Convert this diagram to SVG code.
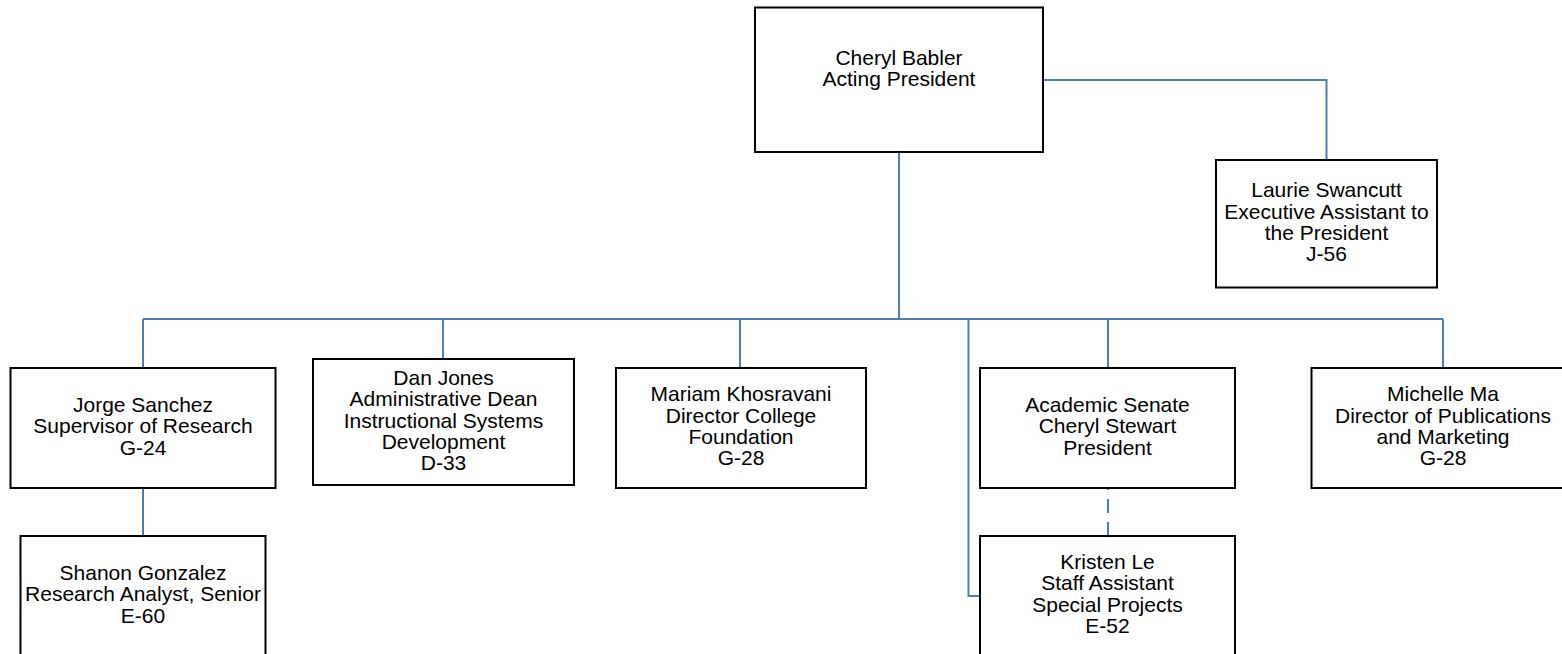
<svg xmlns="http://www.w3.org/2000/svg" width="1562" height="654" viewBox="0 0 1562 654">
<style>
.box{fill:#fff;stroke:#000;stroke-width:2}
.t{font-family:"Liberation Sans",Arial,sans-serif;font-size:21px;fill:#000;text-anchor:middle}
.c{fill:none;stroke:#4a7ebb;stroke-width:2}
.d{stroke-dasharray:14 9;stroke-dashoffset:12}
</style>
<rect width="1562" height="654" fill="#fff"/>
<g id="connectors">
<path class="c" d="M1043,80 H1326.5 V160"/>
<path class="c" d="M899,152 V319"/>
<path class="c" d="M143,319 H1443"/>
<path class="c" d="M143,319 V368"/>
<path class="c" d="M443,319 V359"/>
<path class="c" d="M740,319 V368"/>
<path class="c" d="M1108,319 V368"/>
<path class="c" d="M1443,319 V368"/>
<path class="c" d="M968.5,319 V596 H980"/>
<path class="c" d="M143,488 V536"/>
<path class="c d" d="M1108,488 V536"/>
</g>
<g id="n-babler">
<rect class="box" x="755" y="7.5" width="288" height="144.5"/>
<text class="t" x="899" y="65">Cheryl Babler</text>
<text class="t" x="899" y="86">Acting President</text>
</g>
<g id="n-swancutt">
<rect class="box" x="1216" y="160" width="221" height="127.5"/>
<text class="t" x="1326.5" y="197">Laurie Swancutt</text>
<text class="t" x="1326.5" y="218.5">Executive Assistant to</text>
<text class="t" x="1326.5" y="239.5">the President</text>
<text class="t" x="1326.5" y="260.5">J-56</text>
</g>
<g id="n-sanchez">
<rect class="box" x="10.5" y="368" width="265" height="120"/>
<text class="t" x="143" y="411.5">Jorge Sanchez</text>
<text class="t" x="143" y="433">Supervisor of Research</text>
<text class="t" x="143" y="454.5">G-24</text>
</g>
<g id="n-gonzalez">
<rect class="box" x="20.5" y="536" width="245" height="130"/>
<text class="t" x="143" y="579.5">Shanon Gonzalez</text>
<text class="t" x="143" y="601">Research Analyst, Senior</text>
<text class="t" x="143" y="622.5">E-60</text>
</g>
<g id="n-jones">
<rect class="box" x="313" y="359" width="261" height="126"/>
<text class="t" x="443.5" y="385">Dan Jones</text>
<text class="t" x="443.5" y="406">Administrative Dean</text>
<text class="t" x="443.5" y="427.5">Instructional Systems</text>
<text class="t" x="443.5" y="448.5">Development</text>
<text class="t" x="443.5" y="469.5">D-33</text>
</g>
<g id="n-khosravani">
<rect class="box" x="616" y="368" width="250" height="120"/>
<text class="t" x="741" y="401">Mariam Khosravani</text>
<text class="t" x="741" y="422.5">Director College</text>
<text class="t" x="741" y="444">Foundation</text>
<text class="t" x="741" y="465">G-28</text>
</g>
<g id="n-senate">
<rect class="box" x="980" y="368" width="255" height="120"/>
<text class="t" x="1107.5" y="411.5">Academic Senate</text>
<text class="t" x="1107.5" y="433">Cheryl Stewart</text>
<text class="t" x="1107.5" y="454.5">President</text>
</g>
<g id="n-le">
<rect class="box" x="980" y="536" width="255" height="130"/>
<text class="t" x="1107.5" y="568.5">Kristen Le</text>
<text class="t" x="1107.5" y="590">Staff Assistant</text>
<text class="t" x="1107.5" y="611.5">Special Projects</text>
<text class="t" x="1107.5" y="633">E-52</text>
</g>
<g id="n-ma">
<rect class="box" x="1311.5" y="368" width="264" height="120"/>
<text class="t" x="1443" y="401">Michelle Ma</text>
<text class="t" x="1443" y="422.5">Director of Publications</text>
<text class="t" x="1443" y="444">and Marketing</text>
<text class="t" x="1443" y="465">G-28</text>
</g>
</svg>
